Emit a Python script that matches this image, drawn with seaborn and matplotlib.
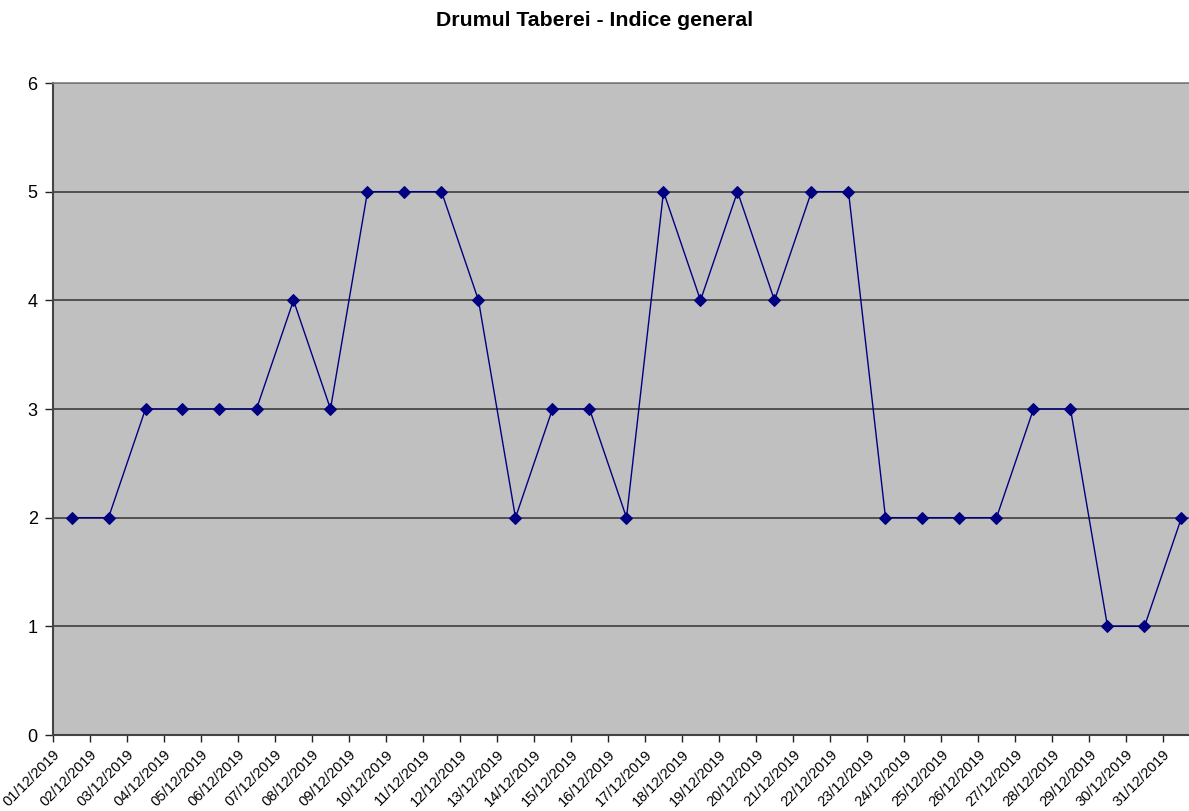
import matplotlib
matplotlib.use("Agg")
import matplotlib.pyplot as plt
import matplotlib.transforms as mtransforms
import seaborn as sns
import pandas as pd
import numpy as np

dates = ["01/12/2019", "02/12/2019", "03/12/2019", "04/12/2019", "05/12/2019",
         "06/12/2019", "07/12/2019", "08/12/2019", "09/12/2019", "10/12/2019",
         "11/12/2019", "12/12/2019", "13/12/2019", "14/12/2019", "15/12/2019",
         "16/12/2019", "17/12/2019", "18/12/2019", "19/12/2019", "20/12/2019",
         "21/12/2019", "22/12/2019", "23/12/2019", "24/12/2019", "25/12/2019",
         "26/12/2019", "27/12/2019", "28/12/2019", "29/12/2019", "30/12/2019",
         "31/12/2019"]
values = [2, 2, 3, 3, 3, 3, 4, 3, 5, 5, 5, 4, 2, 3, 3, 2, 5, 4, 5, 4, 5, 5,
          2, 2, 2, 2, 3, 3, 1, 1, 2]
title = "Drumul Taberei - Indice general"

sns.set_theme(style="white")
plt.rcParams['font.family'] = ['Liberation Sans', 'DejaVu Sans']
plt.rcParams['text.color'] = 'black'
plt.rcParams['xtick.color'] = 'black'
plt.rcParams['ytick.color'] = 'black'

df = pd.DataFrame({"pos": np.arange(len(dates)), "val": values})

W, H = 1189, 811
left_px, top_px, bot_px = 53, 83, 735
right_px = left_px + 37 * len(dates)  # plot area extends past the figure edge
fig = plt.figure(figsize=(W / 100, H / 100), dpi=100)
ax = fig.add_axes([left_px / W, 1 - bot_px / H, (right_px - left_px) / W,
                   (bot_px - top_px) / H])
ax.set_facecolor("#C0C0C0")

ax.set_ylim(0, 6)
ax.set_xlim(-0.5, len(dates) - 0.5)
ax.set_yticks(range(0, 7))
ax.yaxis.grid(True, color="#333333", linewidth=1.1)
ax.set_axisbelow(True)

sns.lineplot(data=df, x="pos", y="val", ax=ax, color="#000080", linewidth=1.0,
             marker="D", markersize=6, markeredgecolor="#000080",
             markerfacecolor="#000080")

ax.set_xticks(np.arange(len(dates)) - 0.5)
ax.set_xticklabels(dates, rotation=45, ha="right", va="top",
                   rotation_mode="anchor", fontsize=10.5)
offset = mtransforms.ScaledTranslation(13 / 100, 0, fig.dpi_scale_trans)
for lab in ax.get_xticklabels():
    lab.set_transform(lab.get_transform() + offset)
ax.tick_params(axis="x", direction="out", length=5, width=1, color="#222222",
               bottom=True, pad=4, labelcolor="black")
ax.tick_params(axis="y", direction="out", length=6, width=1, color="#222222",
               left=True, labelsize=13, pad=5, labelcolor="black")
ax.set_xlabel("")
ax.set_ylabel("")

for s in ["left", "bottom"]:
    ax.spines[s].set_color("#444444")
    ax.spines[s].set_linewidth(1.5)
ax.spines["top"].set_color("#808080")
ax.spines["top"].set_linewidth(1.2)
ax.spines["right"].set_visible(False)

fig.text(0.5 * (1 + 1 / W), 1 - 20 / H, title, ha="center", va="center",
         fontsize=15.3, fontweight="bold", color="black")

fig.savefig("out.png", dpi=100, facecolor="white")
